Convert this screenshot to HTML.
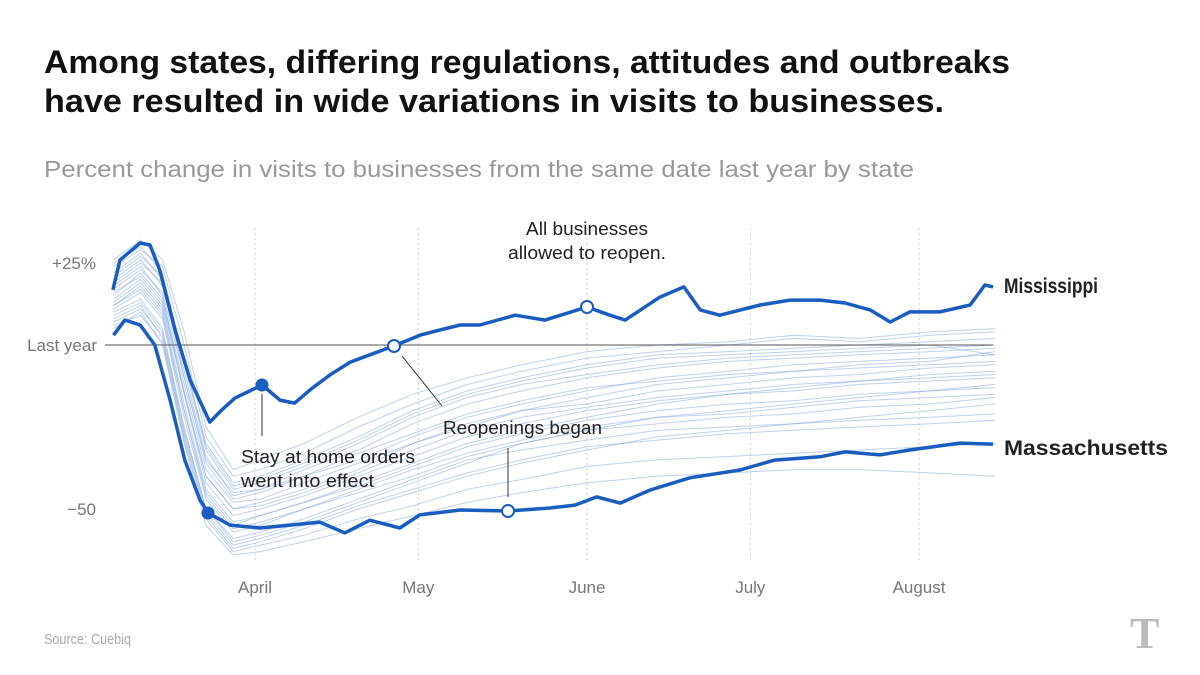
<!DOCTYPE html>
<html><head><meta charset="utf-8"><style>
body{margin:0;background:#fff;width:1200px;height:675px;overflow:hidden;font-family:"Liberation Sans",sans-serif}
svg{position:absolute;left:0;top:0}
</style></head><body>
<svg width="1200" height="675">
<text x="44" y="73" font-size="32" font-weight="bold" fill="#111" textLength="966" lengthAdjust="spacingAndGlyphs">Among states, differing regulations, attitudes and outbreaks</text>
<text x="44" y="112" font-size="32" font-weight="bold" fill="#111" textLength="900" lengthAdjust="spacingAndGlyphs">have resulted in wide variations in visits to businesses.</text>
<text x="44" y="177" font-size="23" fill="#999" textLength="870" lengthAdjust="spacingAndGlyphs">Percent change in visits to businesses from the same date last year by state</text>
<text x="44" y="644" font-size="15" fill="#aaa" textLength="87" lengthAdjust="spacingAndGlyphs">Source: Cuebiq</text>
<text x="1130" y="648" font-size="44" font-family="Liberation Serif,serif" font-weight="bold" fill="#bbb">T</text>
<g id="grid"></g><g id="bg"></g><g id="main"></g><g id="ann"></g>
</svg>
<script>
const monthLabels=["April","May","June","July","August"];
const monthDays=[31,61,92,122,153];
const yTickVals=[25,0,-50];
const yTickLabels=["+25%","Last year","\u221250"];
const msDays=[4.9,6.2,9.9,11.7,13.5,16.3,19.1,22.7,24.9,27.3,32.3,35.6,38.3,41.1,44.8,48.5,52.1,56.5,61.3,65,68.7,72.3,78.8,84.3,92,96.2,99,105.4,109.8,112.8,116.4,123.8,129.3,134.8,139.4,144,147.7,151.3,156.8,162.4,165.1,166.6];
const msVals=[16.8,25.9,31.1,30.5,22.9,4.6,-10.7,-23.5,-19.8,-16.2,-12.2,-16.8,-17.7,-13.7,-9.1,-5.2,-3.0,-0.3,3.0,4.6,6.1,6.1,9.1,7.6,11.6,9.1,7.6,14.6,17.7,10.7,9.1,12.2,13.7,13.7,12.8,10.7,7.0,10.1,10.1,12.2,18.3,17.7];
const maDays=[5,7.1,9.9,12.6,15.4,18.1,20.9,22.4,26.4,31.9,37.4,42.9,47.5,52.1,57.6,61.3,68.7,77.5,85.2,89.8,93.8,98.1,103.6,110.9,120.1,126.5,134.8,139.4,145.8,151.3,160.5,166.6];
const maVals=[3,7.6,6.1,0,-16.8,-35.1,-47.3,-51.2,-54.9,-55.8,-54.9,-54.0,-57.3,-53.4,-55.8,-51.8,-50.3,-50.6,-49.7,-48.8,-46.3,-48.2,-44.2,-40.5,-38.1,-35.1,-34.1,-32.6,-33.5,-32.0,-29.9,-30.2];
const bgDays=[5,10,14,18,22,27,32,40,50,60,70,80,92,105,118,130,142,155,167];
const bgVals=[
[22,28,20,-10,-35,-45,-44,-40,-35,-28,-22,-18,-14,-10,-8,-6,-5,-4,-3],
[18,24,15,-15,-40,-50,-48,-44,-38,-30,-25,-20,-16,-12,-10,-8,-6,-5,-2],
[12,18,10,-20,-45,-55,-52,-48,-42,-36,-30,-26,-22,-18,-15,-13,-11,-9,-8],
[25,30,22,-5,-30,-42,-40,-35,-28,-20,-14,-10,-6,-3,-2,-1,0,1,2],
[10,14,5,-25,-50,-60,-58,-54,-48,-42,-36,-30,-26,-22,-20,-18,-16,-14,-12],
[15,22,14,-12,-38,-48,-47,-42,-36,-30,-24,-20,-18,-14,-12,-10,-9,-7,-6],
[8,12,2,-28,-52,-62,-60,-56,-50,-45,-40,-36,-32,-28,-26,-24,-22,-20,-18],
[20,26,18,-8,-34,-46,-44,-38,-32,-24,-18,-14,-10,-7,-5,-4,-3,-2,-1],
[5,10,0,-30,-55,-64,-63,-60,-56,-52,-48,-45,-42,-40,-39,-38,-38,-39,-40],
[14,20,12,-15,-42,-52,-50,-46,-40,-34,-28,-24,-20,-17,-15,-14,-12,-11,-10],
[24,29,24,0,-28,-40,-38,-33,-25,-18,-12,-8,-4,-2,0,2,1,3,4],
[11,16,8,-22,-47,-57,-55,-50,-45,-40,-34,-30,-26,-24,-22,-21,-19,-18,-16],
[17,23,16,-10,-36,-47,-45,-40,-33,-27,-21,-17,-13,-11,-9,-8,-7,-6,-5],
[9,13,4,-26,-50,-59,-57,-53,-47,-41,-35,-32,-29,-26,-25,-24,-23,-22,-21],
[19,25,19,-6,-32,-44,-42,-37,-30,-22,-16,-12,-9,-6,-4,-3,-2,-1,0],
[13,19,11,-18,-44,-54,-52,-48,-43,-37,-31,-27,-23,-20,-18,-17,-15,-14,-13],
[7,11,3,-27,-51,-61,-59,-55,-49,-44,-39,-35,-31,-29,-27,-26,-25,-24,-23],
[21,27,21,-4,-31,-43,-41,-36,-29,-21,-15,-11,-7,-4,-3,-2,-1,0,-3],
[16,21,13,-14,-40,-50,-49,-45,-39,-32,-26,-22,-19,-16,-14,-12,-11,-10,-9],
[12,17,9,-20,-46,-56,-54,-50,-44,-38,-33,-29,-25,-22,-21,-19,-17,-16,-15],
[26,32,26,4,-25,-38,-35,-30,-22,-15,-10,-6,-2,0,1,3,2,4,5],
[6,9,1,-29,-53,-63,-61,-58,-53,-49,-44,-41,-37,-35,-34,-33,-32,-31,-30]];
const X=d=>255+(d-31)*5.443;
const Y=v=>345-v*3.28;
const NS="http://www.w3.org/2000/svg";
function mk(t,a,p){const e=document.createElementNS(NS,t);for(const k in a)e.setAttribute(k,a[k]);document.getElementById(p).appendChild(e);return e;}
monthDays.forEach((d,i)=>{
 const l=mk("line",{x1:X(d),x2:X(d),y1:228,y2:560,stroke:"#ccc","stroke-dasharray":"2,3"},"grid");
 
 
 const t=mk("text",{x:X(d),y:593,"text-anchor":"middle","font-size":17,fill:"#777"},"grid");t.textContent=monthLabels[i];
 
 
});
yTickVals.forEach((v,i)=>{
 const t=mk("text",{x:v===0?97:96,y:Y(v)+6,"text-anchor":"end","font-size":17,fill:"#777"},"grid");t.textContent=yTickLabels[i];
 
 
});
const base=mk("line",{x1:105,x2:993,y1:Y(0),y2:Y(0),stroke:"#555","stroke-width":1},"main");


function path(days,vals){return days.map((d,i)=>(i?"L":"M")+X(d).toFixed(1)+","+Y(vals[i]).toFixed(1)).join("");}
bgVals.forEach(vals=>{
 const p=mk("path",{d:path(bgDays,vals),fill:"none",stroke:"#7fa4dc","stroke-opacity":0.5,"stroke-width":1},"bg");
 
 
});
[[msDays,msVals,"mississippi-line"],[maDays,maVals,"massachusetts-line"]].forEach(s=>{
 const p=mk("path",{d:path(s[0],s[1]),fill:"none",stroke:"#1a5dc0","stroke-width":3.5,"stroke-linejoin":"round"},"main");
 
 
});
</script>
<svg width="1200" height="675" style="pointer-events:none">
<g font-size="18" fill="#222">
<text x="1004" y="293" font-size="21" font-weight="bold" textLength="94" lengthAdjust="spacingAndGlyphs">Mississippi</text>
<text x="1004" y="455" font-size="21" font-weight="bold" textLength="164" lengthAdjust="spacingAndGlyphs">Massachusetts</text>
<line x1="262" y1="394" x2="262" y2="436" stroke="#333"/>
<text x="241" y="463" textLength="174" lengthAdjust="spacingAndGlyphs">Stay at home orders</text>
<text x="241" y="487" textLength="133" lengthAdjust="spacingAndGlyphs">went into effect</text>
<line x1="402" y1="356" x2="442" y2="406" stroke="#333"/>
<text x="443" y="434" textLength="159" lengthAdjust="spacingAndGlyphs">Reopenings began</text>
<line x1="508" y1="448" x2="508" y2="497" stroke="#333"/>
<text x="587" y="235" text-anchor="middle" textLength="122" lengthAdjust="spacingAndGlyphs">All businesses</text>
<text x="587" y="259" text-anchor="middle" textLength="158" lengthAdjust="spacingAndGlyphs">allowed to reopen.</text>
<circle cx="262" cy="385" r="6.5" fill="#1a5dc0"/>
<circle cx="208" cy="513" r="6.5" fill="#1a5dc0"/>
<circle cx="394" cy="346" r="6" fill="#fff" stroke="#1a5dc0" stroke-width="2"/>
<circle cx="587" cy="307" r="6" fill="#fff" stroke="#1a5dc0" stroke-width="2"/>
<circle cx="508" cy="511" r="6" fill="#fff" stroke="#1a5dc0" stroke-width="2"/>
</g></svg>
</body></html>
